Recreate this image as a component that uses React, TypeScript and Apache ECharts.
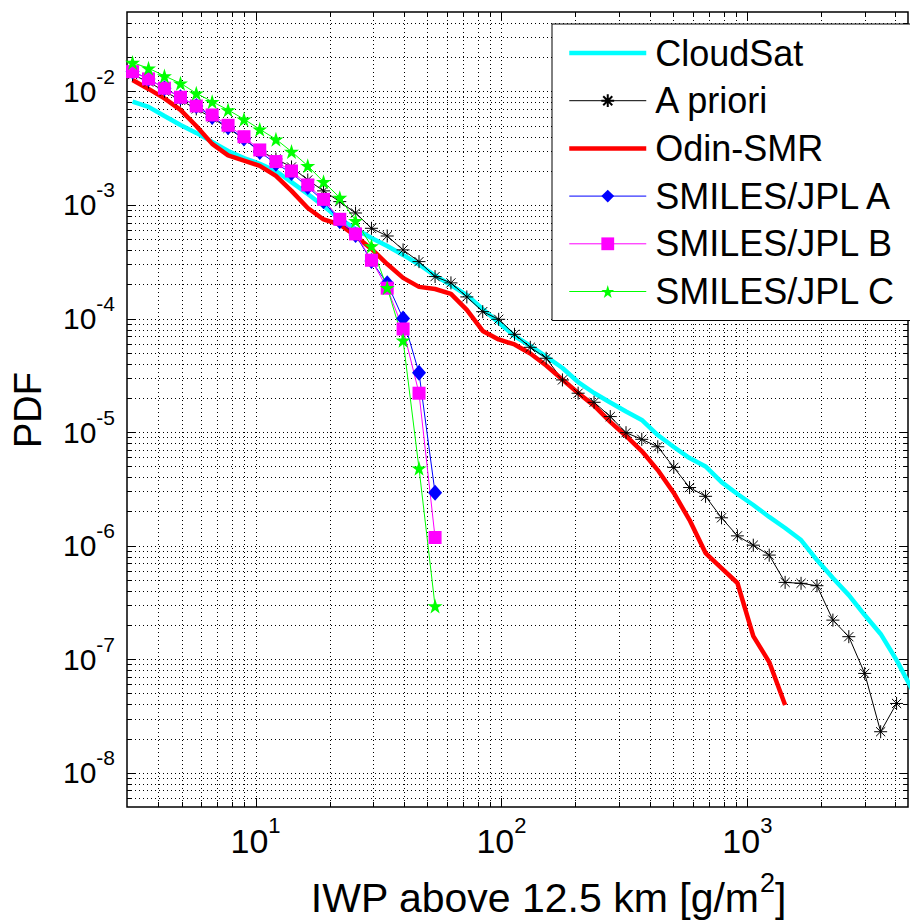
import React, { useEffect, useRef } from 'react';
import * as echarts from 'echarts';

// IWP bin centres [g/m^2]
const iwpBins = [3.16, 3.67, 4.26, 4.95, 5.74, 6.66, 7.73, 8.97, 10.4, 12.1, 14.0, 16.3, 18.9, 22.0, 25.5, 29.6, 34.3, 39.8, 46.2, 53.7, 62.3, 72.3, 83.9, 97.4, 113, 131, 152, 177, 205, 238, 277, 321, 372, 432, 502, 582, 676, 785, 911, 1057, 1227, 1424, 1653, 1919, 2227, 2585, 3000, 3483, 4043, 4690];

const cloudSat = [8.12e-3, 7.30e-3, 6.08e-3, 5.06e-3, 4.31e-3, 3.59e-3, 2.99e-3, 2.59e-3, 2.30e-3, 1.99e-3, 1.59e-3, 1.25e-3, 9.80e-4, 7.53e-4, 6.14e-4, 5.12e-4, 4.35e-4, 3.63e-4, 2.99e-4, 2.39e-4, 1.97e-4, 1.61e-4, 1.21e-4, 9.23e-5, 7.02e-5, 5.73e-5, 4.63e-5, 3.67e-5, 2.76e-5, 2.21e-5, 1.82e-5, 1.52e-5, 1.28e-5, 9.42e-6, 7.39e-6, 5.91e-6, 4.98e-6, 3.63e-6, 2.85e-6, 2.28e-6, 1.79e-6, 1.43e-6, 1.12e-6, 7.47e-7, 5.19e-7, 3.67e-7, 2.45e-7, 1.67e-7, 9.83e-8, 5.35e-8];

const aPriori = [1.405e-2, 1.211e-2, 1.003e-2, 8.36e-3, 7.01e-3, 5.84e-3, 4.74e-3, 3.81e-3, 2.99e-3, 2.54e-3, 2.16e-3, 1.66e-3, 1.33e-3, 1.07e-3, 8.50e-4, 6.23e-4, 5.33e-4, 4.02e-4, 3.17e-4, 2.34e-4, 2.06e-4, 1.55e-4, 1.15e-4, 9.84e-5, 7.26e-5, 5.58e-5, 4.47e-5, 2.88e-5, 2.20e-5, 1.83e-5, 1.37e-5, 9.88e-6, 8.64e-6, 7.43e-6, 4.89e-6, 3.25e-6, 2.72e-6, 1.76e-6, 1.22e-6, 1.01e-6, 8.26e-7, 4.75e-7, 4.66e-7, 4.44e-7, 2.21e-7, 1.58e-7, 7.5e-8, 2.30e-8, 4.08e-8];

const odinSmr = [1.261e-2, 1.051e-2, 8.67e-3, 6.87e-3, 4.96e-3, 3.45e-3, 2.73e-3, 2.46e-3, 2.21e-3, 1.80e-3, 1.33e-3, 9.41e-4, 7.45e-4, 6.73e-4, 5.33e-4, 4.10e-4, 3.02e-4, 2.28e-4, 1.90e-4, 1.82e-4, 1.65e-4, 1.19e-4, 7.77e-5, 6.54e-5, 5.91e-5, 4.92e-5, 3.86e-5, 2.90e-5, 2.21e-5, 1.71e-5, 1.23e-5, 9.24e-6, 6.81e-6, 4.63e-6, 2.91e-6, 1.68e-6, 8.61e-7, 6.35e-7, 4.69e-7, 1.60e-7, 9.44e-8, 3.95e-8];

const smilesA = [1.493e-2, 1.288e-2, 1.066e-2, 8.88e-3, 7.44e-3, 5.96e-3, 4.83e-3, 3.84e-3, 2.93e-3, 2.31e-3, 1.91e-3, 1.44e-3, 1.08e-3, 7.18e-4, 5.44e-4, 3.21e-4, 2.04e-4, 1.00e-4, 3.33e-5, 2.92e-6];
const smilesB = [1.493e-2, 1.288e-2, 1.066e-2, 8.88e-3, 7.44e-3, 6.20e-3, 5.03e-3, 3.99e-3, 3.05e-3, 2.41e-3, 1.99e-3, 1.50e-3, 1.12e-3, 7.48e-4, 5.56e-4, 3.26e-4, 1.85e-4, 8.09e-5, 2.20e-5, 1.18e-6];
const smilesC = [1.792e-2, 1.600e-2, 1.368e-2, 1.180e-2, 9.63e-3, 8.12e-3, 6.87e-3, 5.69e-3, 4.64e-3, 3.79e-3, 2.95e-3, 2.21e-3, 1.60e-3, 1.16e-3, 7.27e-4, 4.35e-4, 1.87e-4, 6.43e-5, 4.80e-6, 2.94e-7];

const seriesNames = ['CloudSat', 'A priori', 'Odin-SMR', 'SMILES/JPL A', 'SMILES/JPL B', 'SMILES/JPL C'];
const xTitleParts = ['IWP above 12.5 km [g/m', '2', ']'];
const yTitle = 'PDF';

const X_MIN = 3;
const X_MAX = 4500;
const Y_MIN = 5e-9;
const Y_MAX = 5e-2;
const xDecades = [1, 10, 100, 1000];
const yDecades = [1e-9, 1e-8, 1e-7, 1e-6, 1e-5, 1e-4, 1e-3, 1e-2];
const tickMultipliers = [1, 2, 3, 4, 5, 6, 7, 8, 9];

const FONT = '"Liberation Sans", Arial, Helvetica, sans-serif';

const ASTERISK = 'path://M0,-1L0,1M-1,0L1,0M-0.707,-0.707L0.707,0.707M-0.707,0.707L0.707,-0.707';
const STAR = 'path://M0,-1L0.2245,-0.309L0.951,-0.309L0.363,0.118L0.588,0.809L0,0.382L-0.588,0.809L-0.363,0.118L-0.951,-0.309L-0.2245,-0.309Z';

const pairs = (ys: number[]) => ys.map((v, i) => [iwpBins[i], v]);

function buildGridData() {
  const out: number[][] = [];
  xDecades.forEach((d) =>
    tickMultipliers.forEach((m) => {
      const v = parseFloat((m * d).toPrecision(6));
      if (v > X_MIN * 1.0001 && v < X_MAX * 0.9999) out.push([v, 1e-5, 0, m === 1 ? 1 : 0]);
    })
  );
  yDecades.forEach((d) =>
    tickMultipliers.forEach((m) => {
      const v = parseFloat((m * d).toPrecision(6));
      if (v > Y_MIN * 1.0001 && v < Y_MAX * 0.9999) out.push([100, v, 1, m === 1 ? 1 : 0]);
    })
  );
  return out;
}

const powLabel = (v: number) => {
  const e = Math.log10(v);
  const r = Math.round(e);
  if (Math.abs(e - r) > 1e-6) return '';
  return `{b|10}{s|${r}}`;
};

export default function App() {
  const ref = useRef<HTMLDivElement>(null);

  useEffect(() => {
    if (!ref.current) return;
    const chart = echarts.init(ref.current, null, { renderer: 'svg' });

    // x title: main text ends at titleJoin, superscript and bracket follow
    const titleJoin = 759;
    const supWidth = 15;
    const titleY = 898;

    const option: any = {
      animation: false,
      backgroundColor: '#fff',
      textStyle: { fontFamily: FONT },
      grid: {
        left: 127,
        top: 12,
        width: 781,
        height: 795,
        show: true,
        borderColor: '#000',
        borderWidth: 1.5,
        backgroundColor: 'transparent',
        outerBoundsMode: 'none',
        containLabel: false,
      },
      xAxis: {
        type: 'log',
        logBase: 10,
        min: X_MIN,
        max: X_MAX,
        axisLine: { show: false },
        axisTick: { show: false },
        splitLine: { show: false },
        minorTick: { show: false },
        axisLabel: {
          margin: 17,
          formatter: powLabel,
          showMinLabel: false,
          showMaxLabel: false,
          rich: {
            b: { fontSize: 34, lineHeight: 34, fontFamily: FONT, color: '#000' },
            s: { fontSize: 22, lineHeight: 22, padding: [0, 0, 32, 0], fontFamily: FONT, color: '#000' },
          },
        },
      },
      yAxis: {
        type: 'log',
        logBase: 10,
        min: Y_MIN,
        max: Y_MAX,
        axisLine: { show: false },
        axisTick: { show: false },
        splitLine: { show: false },
        minorTick: { show: false },
        axisLabel: {
          margin: 12,
          formatter: powLabel,
          showMinLabel: false,
          showMaxLabel: false,
          rich: {
            b: { fontSize: 30, lineHeight: 30, fontFamily: FONT, color: '#000' },
            s: { fontSize: 21, lineHeight: 21, padding: [0, 0, 30, 0], fontFamily: FONT, color: '#000' },
          },
        },
      },
      legend: {
        orient: 'vertical',
        left: 552,
        top: 24,
        padding: [11, 18, 11, 15],
        itemWidth: 77,
        itemHeight: 16,
        itemGap: 11.7,
        backgroundColor: '#fff',
        borderColor: '#000',
        borderWidth: 1,
        borderRadius: 0,
        selectedMode: false,
        lineStyle: { width: 'inherit' },
        textStyle: { fontSize: 36, lineHeight: 36, color: '#000', fontFamily: FONT, padding: [0, 0, 0, 4] },
        data: [
          { name: seriesNames[0], itemStyle: { opacity: 0 } },
          { name: seriesNames[1] },
          { name: seriesNames[2], itemStyle: { opacity: 0 } },
          { name: seriesNames[3] },
          { name: seriesNames[4] },
          { name: seriesNames[5] },
        ],
      },
      graphic: [
        {
          type: 'text',
          x: titleJoin,
          y: titleY,
          style: {
            text: xTitleParts[0],
            align: 'right',
            verticalAlign: 'middle',
            fontSize: 41,
            lineHeight: 36,
            fontFamily: FONT,
            fill: '#000',
          },
        },
        {
          type: 'text',
          x: titleJoin + 1,
          y: titleY - 15,
          style: {
            text: xTitleParts[1],
            align: 'left',
            verticalAlign: 'middle',
            fontSize: 27,
            fontFamily: FONT,
            fill: '#000',
          },
        },
        {
          type: 'text',
          x: titleJoin + 1 + supWidth,
          y: titleY,
          style: {
            text: xTitleParts[2],
            align: 'left',
            verticalAlign: 'middle',
            fontSize: 41,
            lineHeight: 36,
            fontFamily: FONT,
            fill: '#000',
          },
        },
        {
          type: 'text',
          x: 28,
          y: 410,
          rotation: Math.PI / 2,
          style: {
            text: yTitle,
            align: 'center',
            verticalAlign: 'middle',
            fontSize: 38,
            fontFamily: FONT,
            fill: '#000',
          },
        },
      ],
      series: [
        {
          type: 'custom',
          name: 'grid',
          silent: true,
          z: 1,
          clip: false,
          data: buildGridData(),
          renderItem: (params: any, api: any) => {
            const cs = params.coordSys;
            const kind = api.value(2);
            const major = api.value(3) === 1;
            const len = major ? 9 : 5;
            const dot = { stroke: '#000', lineWidth: 1, lineDash: [1, 3] };
            const solid = { stroke: '#000', lineWidth: 1 };
            const children: any[] = [];
            if (kind === 0) {
              const px = Math.round(api.coord([api.value(0), api.value(1)])[0]) + 0.5;
              const y0 = cs.y;
              const y1 = cs.y + cs.height;
              children.push({ type: 'line', shape: { x1: px, y1: y0, x2: px, y2: y1 }, style: dot });
              children.push({ type: 'line', shape: { x1: px, y1: y1, x2: px, y2: y1 - len }, style: solid });
              children.push({ type: 'line', shape: { x1: px, y1: y0, x2: px, y2: y0 + len }, style: solid });
            } else {
              const py = Math.round(api.coord([api.value(0), api.value(1)])[1]) + 0.5;
              const x0 = cs.x;
              const x1 = cs.x + cs.width;
              children.push({ type: 'line', shape: { x1: x0, y1: py, x2: x1, y2: py }, style: dot });
              children.push({ type: 'line', shape: { x1: x0, y1: py, x2: x0 + len, y2: py }, style: solid });
              children.push({ type: 'line', shape: { x1: x1, y1: py, x2: x1 - len, y2: py }, style: solid });
            }
            return { type: 'group', children };
          },
        },
        {
          name: seriesNames[0],
          type: 'line',
          z: 2,
          data: pairs(cloudSat),
          symbol: 'none',
          lineStyle: { color: '#00ffff', width: 4.5 },
          itemStyle: { color: '#00ffff' },
        },
        {
          name: seriesNames[1],
          type: 'line',
          z: 2,
          data: pairs(aPriori),
          symbol: ASTERISK,
          symbolSize: 13,
          showAllSymbol: true,
          lineStyle: { color: '#000', width: 1 },
          itemStyle: { color: 'rgba(0,0,0,0)', borderColor: '#000', borderWidth: 1 },
        },
        {
          name: seriesNames[2],
          type: 'line',
          z: 2,
          data: pairs(odinSmr),
          symbol: 'none',
          lineStyle: { color: '#ff0000', width: 4.5 },
          itemStyle: { color: '#ff0000' },
        },
        {
          name: seriesNames[3],
          type: 'line',
          z: 2,
          data: pairs(smilesA),
          symbol: 'diamond',
          symbolSize: [14, 16],
          lineStyle: { color: '#0000ff', width: 1 },
          itemStyle: { color: '#0000ff' },
        },
        {
          name: seriesNames[4],
          type: 'line',
          z: 2,
          data: pairs(smilesB),
          symbol: 'rect',
          symbolSize: 13,
          lineStyle: { color: '#ff00ff', width: 1 },
          itemStyle: { color: '#ff00ff' },
        },
        {
          name: seriesNames[5],
          type: 'line',
          z: 2,
          data: pairs(smilesC),
          symbol: STAR,
          symbolSize: 15,
          lineStyle: { color: '#00ff00', width: 1 },
          itemStyle: { color: '#00ff00' },
        },
      ],
    };

    chart.setOption(option);
    return () => chart.dispose();
  }, []);

  return (
    <div
      ref={ref}
      style={{ position: 'absolute', left: 0, top: 0, width: 910, height: 922, background: '#fff' }}
    />
  );
}
